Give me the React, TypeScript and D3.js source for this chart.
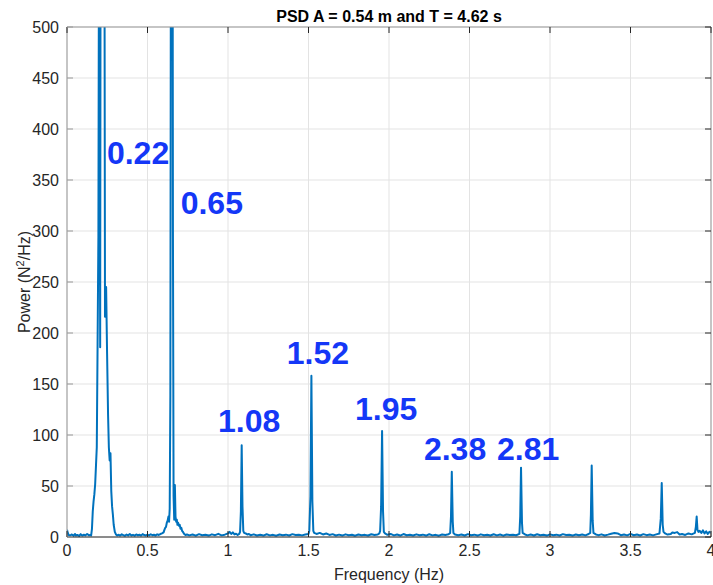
import React from "react";
import * as d3 from "d3";

// [frequency (Hz), power (N^2/Hz)]
const psdPoints: [number, number][] = [
  [0.000,7],[0.005,4],[0.010,2],[0.020,1.5],[0.030,2.5],[0.040,1.2],[0.050,3],[0.055,1.5],[0.065,2],[0.075,1],
  [0.085,2.8],[0.095,1.4],[0.105,2.2],[0.115,1.6],[0.125,3],[0.135,1.8],[0.145,2],[0.150,1.5],[0.155,8],[0.160,25],
  [0.165,35],[0.170,42],[0.175,52],[0.180,70],[0.185,88],[0.190,190],[0.195,294],[0.200,700],[0.206,186],[0.212,1200],
  [0.218,1500],[0.224,1300],[0.230,900],[0.236,216],[0.243,245],[0.249,180],[0.255,120],[0.260,88],[0.265,75],[0.270,82],
  [0.275,45],[0.280,30],[0.285,22],[0.290,12],[0.297,5],[0.304,2.5],[0.312,1.5],
  [0.320,2.2],[0.330,1.4],[0.340,2.6],[0.350,1.8],[0.360,1.2],[0.370,2.4],[0.380,1.6],[0.390,2.9],[0.400,1.5],[0.410,2.1],
  [0.420,1.3],[0.430,2.5],[0.440,1.7],[0.450,2.2],[0.460,1.4],[0.470,2.8],[0.480,1.9],[0.490,1.5],[0.500,2.3],[0.510,1.6],
  [0.520,2.7],[0.530,1.8],[0.540,2.2],[0.550,1.5],[0.560,2.6],[0.570,2.0],[0.580,2.9],[0.590,3.5],[0.600,4.5],[0.605,7],
  [0.610,9],[0.615,10],[0.620,14],[0.625,16],[0.630,20],[0.634,15],[0.638,28],[0.642,140],[0.646,700],[0.650,1500],
  [0.654,900],[0.658,300],[0.662,40],[0.666,17],[0.670,51],[0.674,20],[0.678,15],[0.682,17],[0.686,12],[0.690,14],
  [0.695,11],[0.700,12],[0.705,8],[0.710,9],[0.715,6],[0.720,5],[0.728,3],[0.736,2],
  [0.745,2.5],[0.760,1.6],[0.780,2.4],[0.800,1.3],[0.820,2.8],[0.840,1.7],[0.860,2.2],[0.880,1.4],[0.900,2.6],[0.920,1.8],
  [0.940,3.1],[0.960,1.6],[0.980,2.3],[1.000,3.5],[1.010,5],[1.020,3],[1.030,4.5],[1.040,2.5],[1.050,3.2],[1.060,2],
  [1.070,3],[1.075,5],[1.080,25],[1.085,90],[1.090,30],[1.095,6],[1.100,4],[1.110,3.5],[1.120,2.4],[1.130,3],
  [1.140,1.8],[1.160,2.6],[1.180,1.5],[1.200,2.2],[1.220,1.4],[1.240,2.7],[1.260,1.6],[1.280,2.1],[1.300,1.3],[1.320,2.5],
  [1.340,1.7],[1.360,2.3],[1.380,1.5],[1.400,2.8],[1.420,1.9],[1.440,2.2],[1.460,1.6],[1.480,2.5],[1.500,3],[1.505,6],
  [1.512,40],[1.518,158],[1.524,35],[1.530,6],[1.535,4],[1.550,3],[1.570,4],[1.590,2.5],[1.610,3.5],[1.630,2],
  [1.650,2.8],[1.670,1.5],[1.690,2.3],[1.710,1.4],[1.730,2.6],[1.750,1.7],[1.770,2.2],[1.790,1.3],[1.810,2.5],[1.830,1.8],
  [1.850,2.1],[1.870,1.5],[1.890,2.7],[1.910,1.9],[1.930,2.4],[1.940,3.5],[1.945,6],[1.951,30],[1.957,104],[1.963,25],
  [1.968,5],[1.975,3.5],[1.990,2.2],[2.010,3],[2.030,1.6],[2.050,2.4],[2.070,1.4],[2.090,2.9],[2.110,1.7],[2.130,2.2],
  [2.150,1.5],[2.170,2.6],[2.190,1.8],[2.210,2.3],[2.230,1.4],[2.250,2.7],[2.270,1.6],[2.290,2.1],[2.310,1.3],[2.330,2.5],
  [2.350,1.9],[2.370,2.6],[2.380,4],[2.385,20],[2.390,64],[2.396,15],[2.400,4],[2.410,2.5],[2.430,1.8],[2.450,2.4],
  [2.470,1.5],[2.490,2.8],[2.510,1.7],[2.530,2.3],[2.550,1.4],[2.570,2.6],[2.590,1.8],[2.610,2.2],[2.630,1.5],[2.650,2.7],
  [2.670,1.6],[2.690,2.4],[2.710,1.3],[2.730,2.5],[2.750,1.9],[2.770,2.3],[2.790,1.7],[2.810,3],[2.815,20],[2.820,68],
  [2.826,14],[2.830,4],[2.845,2.5],[2.860,1.6],[2.880,2.4],[2.900,1.5],[2.920,2.7],[2.940,1.8],[2.960,2.2],[2.980,1.4],
  [3.000,2.6],[3.020,1.7],[3.040,2.3],[3.060,1.5],[3.080,2.8],[3.100,1.9],[3.120,2.2],[3.140,1.4],[3.160,2.5],[3.180,1.7],
  [3.200,2.4],[3.220,1.6],[3.240,2.9],[3.250,4],[3.254,22],[3.259,70],[3.265,16],[3.270,4],[3.285,2.5],[3.300,1.8],
  [3.320,2.6],[3.340,1.5],[3.360,2.3],[3.380,3.2],[3.400,4],[3.420,3.5],[3.440,1.8],[3.460,2.4],[3.480,1.6],[3.500,3],
  [3.520,1.7],[3.540,2.5],[3.560,1.5],[3.580,2.8],[3.600,1.8],[3.620,2.4],[3.640,1.6],[3.660,2.6],[3.680,3.5],[3.688,18],
  [3.694,53],[3.700,12],[3.705,5],[3.715,3.5],[3.730,2.4],[3.750,3],[3.760,4.5],[3.775,4],[3.790,4.8],[3.805,2.5],
  [3.820,3],[3.840,2],[3.860,3.5],[3.880,2.6],[3.900,4],[3.906,10],[3.911,20],[3.916,7],[3.922,5],[3.930,6],
  [3.940,4],[3.950,6.5],[3.960,3.5],[3.970,5.5],[3.980,3],[3.990,5],[4.000,4],
];

const peakLabels = ["0.22", "0.65", "1.08", "1.52", "1.95", "2.38", "2.81"];
const peakLabelFreq = [0.248, 0.706, 0.938, 1.365, 1.789, 2.217, 2.671];
const peakLabelPower = [366, 317, 103, 170, 115, 75.5, 75.5];

const xTicks = [0, 0.5, 1, 1.5, 2, 2.5, 3, 3.5, 4];
const yTicks = [0, 50, 100, 150, 200, 250, 300, 350, 400, 450, 500];

const W = 713;
const H = 585;
const M = { left: 67, right: 711, top: 27, bottom: 537 };

export default function App() {
  const x = d3.scaleLinear().domain([0, 4]).range([M.left, M.right]);
  const y = d3.scaleLinear().domain([0, 500]).range([M.bottom, M.top]);
  const line = d3
    .line<[number, number]>()
    .x((d) => x(d[0]))
    .y((d) => y(d[1]));
  const font = "'Liberation Sans', Arial, Helvetica, sans-serif";
  const tickLen = 6;
  const txt = "#262626";

  return (
    <svg
      width={W}
      height={H}
      style={{ position: "absolute", left: 0, top: 0, background: "#fff" }}
      fontFamily={font}
    >
      <defs>
        <clipPath id="plotClip">
          <rect x={M.left} y={M.top} width={M.right - M.left} height={M.bottom - M.top} />
        </clipPath>
      </defs>
      <rect x={0} y={0} width={W} height={H} fill="#fff" />
      {/* grid */}
      {xTicks.map((t) => (
        <line key={"gx" + t} x1={x(t)} x2={x(t)} y1={M.top} y2={M.bottom} stroke="#e3e3e3" strokeWidth={1} />
      ))}
      {yTicks.map((t) => (
        <line key={"gy" + t} x1={M.left} x2={M.right} y1={y(t)} y2={y(t)} stroke="#e3e3e3" strokeWidth={1} />
      ))}
      {/* data */}
      <path
        d={line(psdPoints) || ""}
        fill="none"
        stroke="#0072BD"
        strokeWidth={2}
        strokeLinejoin="round"
        clipPath="url(#plotClip)"
      />
      {/* box */}
      <line x1={M.left} x2={M.right} y1={M.top} y2={M.top} stroke="#999" strokeWidth={1} />
      <line x1={M.right} x2={M.right} y1={M.top} y2={M.bottom} stroke="#999" strokeWidth={1} />
      <line x1={M.left} x2={M.left} y1={M.top} y2={M.bottom} stroke="#999" strokeWidth={1} />
      <line x1={M.left} x2={M.right} y1={M.bottom} y2={M.bottom} stroke="#262626" strokeWidth={1} />
      {/* x ticks */}
      {xTicks.map((t) => (
        <g key={"xt" + t}>
          <line x1={x(t)} x2={x(t)} y1={M.bottom} y2={M.bottom - tickLen} stroke="#262626" />
          <line x1={x(t)} x2={x(t)} y1={M.top} y2={M.top + tickLen} stroke="#262626" />
          <text x={x(t)} y={556} textAnchor="middle" fontSize={16} fill={txt}>
            {String(t)}
          </text>
        </g>
      ))}
      {/* y ticks */}
      {yTicks.map((t) => (
        <g key={"yt" + t}>
          <line x1={M.left} x2={M.left + tickLen} y1={y(t)} y2={y(t)} stroke="#999" />
          <line x1={M.right} x2={M.right - tickLen} y1={y(t)} y2={y(t)} stroke="#262626" />
          <text x={59} y={y(t) + 5.5} textAnchor="end" fontSize={16} fill={txt}>
            {String(t)}
          </text>
        </g>
      ))}
      {/* peak labels */}
      {peakLabels.map((s, i) => (
        <text
          key={"pl" + s}
          x={x(peakLabelFreq[i])}
          y={y(peakLabelPower[i])}
          fontSize={32}
          fontWeight="bold"
          fill="#1437f7"
        >
          {s}
        </text>
      ))}
      {/* title */}
      <text x={(M.left + M.right) / 2} y={22} textAnchor="middle" fontSize={16} fontWeight="bold" fill="#000">
        PSD A = 0.54 m and T = 4.62 s
      </text>
      {/* axis labels */}
      <text x={(M.left + M.right) / 2} y={580} textAnchor="middle" fontSize={16} fill={txt}>
        Frequency (Hz)
      </text>
      <text
        transform={`translate(30, ${(M.top + M.bottom) / 2}) rotate(-90)`}
        textAnchor="middle"
        fontSize={16}
        fill={txt}
      >
        Power (N<tspan baselineShift="super" fontSize={11}>2</tspan>/Hz)
      </text>
    </svg>
  );
}
